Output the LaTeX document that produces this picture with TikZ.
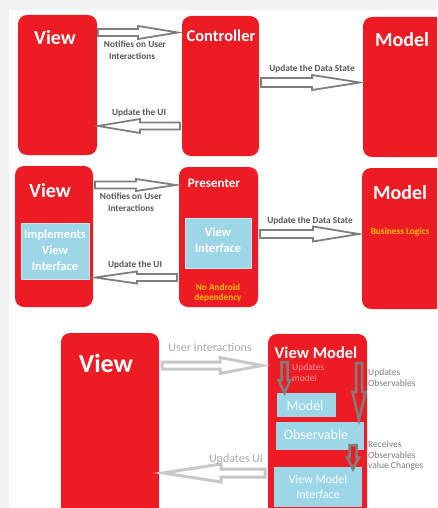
\documentclass[tikz,border=0pt]{standalone}
\usepackage{fontspec}
\setmainfont{Carlito}
\usetikzlibrary{calc}
\definecolor{rd}{HTML}{ED1C24}
\definecolor{lb}{HTML}{9DD6E6}
\definecolor{lbl}{HTML}{595959}
\definecolor{org}{HTML}{FFC000}
\definecolor{ag}{HTML}{7F7F7F}
\definecolor{lg}{HTML}{C8C8C8}
\definecolor{pk}{HTML}{F39A9A}
\definecolor{bgc}{HTML}{F2F2F2}
\newcommand{\fs}[2]{\fontsize{#1}{#2}\selectfont}
% #1 style, #2 start, #3 end, #4 half shaft, #5 half head, #6 head length
\newcommand{\barrow}[6]{%
  \coordinate (Q) at ($(#3)!#6!(#2)$);
  \draw[#1] ($(#2)!#4!90:(#3)$) -- ($(Q)!#4!90:(#3)$) -- ($(Q)!#5!90:(#3)$) -- (#3)
    -- ($(Q)!#5!-90:(#3)$) -- ($(Q)!#4!-90:(#3)$) -- ($(#2)!#4!-90:(#3)$) -- cycle;}
\tikzset{
  box/.style={rectangle, anchor=north west, inner sep=0pt, outer sep=0pt, fill=rd, rounded corners=9pt},
  bluebox/.style={rectangle, anchor=north west, inner sep=0pt, outer sep=0pt, fill=lb, draw=lb!60!white, line width=0.8pt},
  ttl/.style={anchor=base, inner sep=0pt, text=white, font=\bfseries\fs{20}{22}},
  lab/.style={anchor=base, inner sep=0pt, text=lbl, font=\bfseries\fs{9.3}{12}},
  inb/.style={anchor=base, inner sep=0pt, text=white, font=\bfseries\fs{12.5}{15}},
  orl/.style={anchor=base, inner sep=0pt, text=org, font=\bfseries\fs{9.3}{12}},
  lab3/.style={anchor=base, inner sep=0pt, text=lg!85!black, font=\fs{12}{14}},
  sml/.style={anchor=base west, inner sep=0pt, text=ag, font=\fs{9.5}{11}},
  harr/.style={draw=ag, line width=1.8pt, fill=white, line join=miter},
  larr/.style={draw=lg, line width=3pt, fill=white, line join=miter},
  darr/.style={draw=ag, line width=2.5pt, fill=rd, line join=miter},
}
\begin{document}
\begin{tikzpicture}[x=1pt,y=-1pt]
\useasboundingbox (0,0) rectangle (437,508);
\clip (0,0) rectangle (437,508);
\fill[bgc] (0,0) rectangle (437,508);
\fill[white] (9,10) rectangle (437,508);

% ---------- Panel 1: MVC ----------
\node[box, minimum width=79pt, minimum height=140pt] (view1) at (18,15) {};
\node[box, minimum width=77pt, minimum height=140pt] (ctrl) at (182,16) {};
\node[box, minimum width=85pt, minimum height=140pt] (model1) at (363,17) {};
\node[ttl] (tv1) at (55,45) {View};
\node[ttl, font=\bfseries\fs{16.5}{18}] (tc1) at (221,42) {Controller};
\node[ttl] (tm1) at (402,47) {Model};

\coordinate (a1s) at ($(view1.east |- 0,32.5)+(1,0)$);
\coordinate (a1e) at ($(ctrl.west |- 0,32.5)+(-4,0)$);
\barrow{harr}{a1s}{a1e}{3.5pt}{6.5pt}{40pt}
\node[lab] (l1a) at (135,48) {Notifies on User};
\node[lab] (l1b) at (132,60) {Interactions};

\coordinate (a2s) at ($(ctrl.east |- 0,82.5)+(2,0)$);
\coordinate (a2e) at ($(model1.west |- 0,82.5)+(-3,0)$);
\barrow{harr}{a2s}{a2e}{4.5pt}{7.5pt}{48pt}
\node[lab] (l2) at (312,72) {Update the Data State};

\coordinate (a3s) at ($(ctrl.west |- 0,126)+(-2,0)$);
\coordinate (a3e) at ($(view1.east |- 0,126)+(1,0)$);
\barrow{harr}{a3s}{a3e}{3.5pt}{7pt}{42pt}
\node[lab] (l3) at (139,115) {Update the UI};

% ---------- Panel 2: MVP ----------
\node[box, minimum width=78pt, minimum height=141pt] (view2) at (15,166) {};
\node[box, minimum width=79pt, minimum height=140pt] (pres) at (179,167) {};
\node[box, minimum width=86pt, minimum height=141pt] (model2) at (362,168) {};
\node[bluebox, minimum width=68pt, minimum height=56pt] (blue1) at (21,223) {};
\node[bluebox, minimum width=66pt, minimum height=50pt] (blue2) at (185,218) {};
\node[ttl] (tv2) at (50,197) {View};
\node[ttl, font=\bfseries\fs{13}{15}] (tp2) at (214,187) {Presenter};
\node[ttl] (tm2) at (400,199) {Model};
\node[inb] (i1) at (55,238) {Implements};
\node[inb] (i2) at (55,254) {View};
\node[inb] (i3) at (55,270) {Interface};
\node[inb] (i4) at (218,236) {View};
\node[inb] (i5) at (218,252) {Interface};
\node[orl] (o1) at (400,234) {Business Logics};
\node[orl] (o2) at (218,290) {No Android};
\node[orl] (o3) at (218,300.5) {dependency};

\coordinate (b1s) at ($(view2.east |- 0,185)+(2,0)$);
\coordinate (b1e) at ($(pres.west |- 0,185)+(-3,0)$);
\barrow{harr}{b1s}{b1e}{3.5pt}{6pt}{40pt}
\node[lab] (m1a) at (131,199) {Notifies on User};
\node[lab] (m1b) at (131,211) {Interactions};

\coordinate (b2s) at ($(pres.east |- 0,234)+(2,0)$);
\coordinate (b2e) at ($(model2.west |- 0,234)+(-3,0)$);
\barrow{harr}{b2s}{b2e}{4pt}{7.5pt}{46pt}
\node[lab] (m2) at (310,223) {Update the Data State};

\coordinate (b3s) at ($(pres.west |- 0,277.5)+(-2,0)$);
\coordinate (b3e) at ($(view2.east |- 0,277.5)+(2,0)$);
\barrow{harr}{b3s}{b3e}{3.5pt}{6pt}{42pt}
\node[lab] (m3) at (135,267) {Update the UI};

% ---------- Panel 3: MVVM ----------
\node[box, minimum width=98pt, minimum height=190pt] (view3) at (61,333) {};
\node[box, minimum width=99pt, minimum height=190pt] (vm) at (268,334) {};
\node[bluebox, draw=none, minimum width=59pt, minimum height=24pt] (mdl) at (277,393) {};
\node[bluebox, draw=none, minimum width=88pt, minimum height=28pt] (obs) at (276,422) {};
\node[bluebox, draw=none, minimum width=88pt, minimum height=40pt] (vmi) at (274,467) {};
\node[ttl, font=\bfseries\fs{26}{28}] (tv3) at (106,372) {View};
\node[ttl, font=\bfseries\fs{16.5}{18}] (tvm) at (316,358) {View Model};
\node[anchor=base, inner sep=0pt, text=white!92!lb, font=\fs{14}{16}] (tmd) at (305,410) {Model};
\node[anchor=base, inner sep=0pt, text=white!92!lb, font=\fs{14}{16}] (tob) at (316,439) {Observable};
\node[anchor=base, inner sep=0pt, text=white!92!lb, font=\fs{12}{14}] (tvi1) at (318,483) {View Model};
\node[anchor=base, inner sep=0pt, text=white!92!lb, font=\fs{12}{14}] (tvi2) at (318,498) {Interface};

\coordinate (c1s) at ($(view3.east |- 0,365.5)+(3,0)$);
\coordinate (c1e) at ($(vm.west |- 0,365.5)+(-6,0)$);
\barrow{larr}{c1s}{c1e}{3.5pt}{8pt}{42pt}
\node[lab3] (n1) at (210,351) {User Interactions};

\coordinate (c2s) at ($(vm.west |- 0,473)+(-3,0)$);
\coordinate (c2e) at ($(view3.east |- 0,473)+(4,0)$);
\barrow{larr}{c2s}{c2e}{4pt}{9pt}{58pt}
\node[lab3] (n2) at (236,462) {Updates UI};

\coordinate (d1s) at (284.5,362);
\coordinate (d1e) at (mdl.north -| 284.5,0);
\barrow{darr}{d1s}{d1e}{3pt}{6pt}{13pt}
\node[sml, text=pk] (u1) at (292,370) {Updates};
\node[sml, text=pk] (u2) at (292,381) {model};

\coordinate (d2s) at (359,363);
\coordinate (d2e) at ($(obs.north -| 359,0)+(0,-2)$);
\barrow{darr}{d2s}{d2e}{3pt}{6.5pt}{28pt}
\node[sml] (u3) at (368,375) {Updates};
\node[sml] (u4) at (368,386) {Observables};

\coordinate (d3s) at (353,445);
\coordinate (d3e) at ($(vmi.north -| 353,0)+(0,2)$);
\barrow{darr}{d3s}{d3e}{3.5pt}{6pt}{12pt}
\node[sml] (u5) at (368,447) {Receives};
\node[sml] (u6) at (368,458) {Observables};
\node[sml] (u7) at (368,468.5) {value Changes};
\end{tikzpicture}
\end{document}
